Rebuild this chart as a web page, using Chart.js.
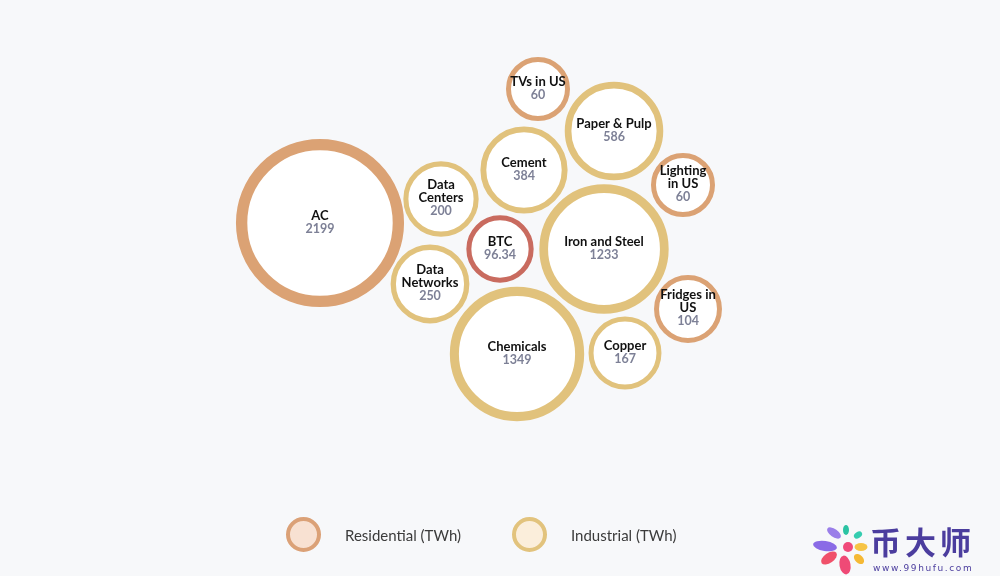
<!DOCTYPE html>
<html>
<head>
<meta charset="utf-8">
<script src="https://cdn.jsdelivr.net/npm/chart.js@4/dist/chart.umd.min.js"></script>
<style>
  html, body { margin: 0; padding: 0; background: #f7f8fa; }
  #wrap { position: relative; width: 1000px; height: 576px; overflow: hidden; }
  #chart { position: absolute; left: 0; top: 0; }
  .legend-item { position: absolute; top: 517px; height: 35px; display: flex; align-items: center;
    font-family: Lato, "Open Sans", sans-serif; font-size: 15px; color: #3b3b3b; }
  .legend-dot { width: 27px; height: 27px; border-radius: 50%; border: 4px solid; margin-right: 24px; }
  #brand { position: absolute; left: 808px; top: 520px; width: 190px; height: 56px; }
  #brand .name { position: absolute; left: 62px; top: 3px; font-family: "Noto Sans CJK SC", sans-serif;
    font-weight: 700; font-size: 31px; line-height: 36px; letter-spacing: 4px; color: #4b3d9e; }
  #brand .url { position: absolute; left: 65px; top: 43px; font-family: "DejaVu Sans", sans-serif;
    font-size: 9px; letter-spacing: 1.6px; color: #4b3d9e; }
</style>
</head>
<body>
<div id="wrap">
  <canvas id="chart" width="1000" height="576"></canvas>

  <div class="legend-item" style="left:286px;">
    <div class="legend-dot" style="background:#f8e1d2;border-color:#dba177;"></div>Residential (TWh)
  </div>
  <div class="legend-item" style="left:512px;">
    <div class="legend-dot" style="background:#fbeedb;border-color:#e2c37d;"></div>Industrial (TWh)
  </div>

  <div id="brand">
    <svg width="62" height="56" viewBox="808 520 62 56">
      <ellipse cx="825" cy="546" rx="12" ry="5" fill="#8a6be6" transform="rotate(8 825 546)"/>
      <ellipse cx="834" cy="533" rx="8" ry="4" fill="#9a7ee9" transform="rotate(35 834 533)"/>
      <ellipse cx="846" cy="530" rx="3" ry="5" fill="#2bc3a3"/>
      <ellipse cx="858" cy="535" rx="4.5" ry="3" fill="#35cdb0" transform="rotate(-35 858 535)"/>
      <ellipse cx="861" cy="547" rx="6.5" ry="4" fill="#f6c445"/>
      <ellipse cx="859" cy="559" rx="6" ry="4" fill="#f5b935" transform="rotate(45 859 559)"/>
      <ellipse cx="845" cy="565" rx="5.5" ry="9.5" fill="#ef4a76" transform="rotate(-10 845 565)"/>
      <ellipse cx="829" cy="558" rx="9" ry="5" fill="#f0516a" transform="rotate(-35 829 558)"/>
      <circle cx="848" cy="547" r="5" fill="#f04a7a"/>
    </svg>
    <div class="name">币大师</div>
    <div class="url">www.99hufu.com</div>
  </div>
</div>

<script>
// Electricity consumption, TWh per year
const residentialNames = ['AC', 'TVs in US', 'Lighting in US', 'Fridges in US'];
const residentialTWh   = [2199, 60, 60, 104];

const industrialNames  = ['Data Centers', 'Data Networks', 'Cement', 'Paper & Pulp',
                          'Iron and Steel', 'Chemicals', 'Copper'];
const industrialTWh    = [200, 250, 384, 586, 1233, 1349, 167];

const btcNames = ['BTC'];
const btcTWh   = [96.34];

// Packed bubble centres on a 1000 x 576 layout plane
const packedCentres = {
  'AC': [320, 223],
  'TVs in US': [538, 89],
  'Lighting in US': [683, 185],
  'Fridges in US': [688, 309],
  'Data Centers': [441, 199],
  'Data Networks': [430, 284],
  'Cement': [524, 170],
  'Paper & Pulp': [614, 131],
  'Iron and Steel': [604, 249],
  'Chemicals': [517, 354],
  'Copper': [625, 353],
  'BTC': [500, 249]
};

// How each name wraps inside its bubble
const labelLines = {
  'Data Centers': ['Data', 'Centers'],
  'Data Networks': ['Data', 'Networks'],
  'Lighting in US': ['Lighting', 'in US'],
  'Fridges in US': ['Fridges in', 'US']
};

// Bubble size grows with consumption (outer edge of ring, px)
function outerRadius(v) { return 28 + 4 * Math.pow(v / 60, 0.733); }
function ringWidth(v) { return Math.max(5, outerRadius(v) * 0.135); }

function points(names, values) {
  return names.map((n, i) => {
    const v = values[i];
    return { x: packedCentres[n][0], y: packedCentres[n][1],
             r: outerRadius(v) - ringWidth(v) / 2, name: n, value: v };
  });
}

function ringDataset(label, names, values, stroke) {
  return {
    label,
    data: points(names, values),
    backgroundColor: '#ffffff',
    borderColor: stroke,
    borderWidth: values.map(ringWidth),
    hoverBorderWidth: values.map(ringWidth),
    hoverRadius: 0,
    clip: false
  };
}

const bubbleLabels = {
  id: 'bubbleLabels',
  afterDatasetsDraw(chart) {
    const ctx = chart.ctx;
    ctx.save();
    ctx.textAlign = 'center';
    ctx.textBaseline = 'middle';
    const lh = 13;
    chart.data.datasets.forEach((ds, di) => {
      chart.getDatasetMeta(di).data.forEach((el, i) => {
        const p = ds.data[i];
        const lines = (labelLines[p.name] || [p.name]).concat(String(p.value));
        let y = el.y - 1 - (lines.length - 1) * lh / 2;
        lines.forEach((t, k) => {
          const isValue = k === lines.length - 1;
          ctx.font = isValue ? 'bold 12.5px Lato, sans-serif' : 'bold 13px Lato, sans-serif';
          ctx.fillStyle = isValue ? '#7d8096' : '#111111';
          ctx.fillText(t, el.x, y);
          y += lh;
        });
      });
    });
    ctx.restore();
  }
};

new Chart(document.getElementById('chart'), {
  type: 'bubble',
  data: {
    datasets: [
      ringDataset('Residential (TWh)', residentialNames, residentialTWh, '#dba274'),
      ringDataset('Industrial (TWh)', industrialNames, industrialTWh, '#e1c27c'),
      ringDataset('BTC', btcNames, btcTWh, '#c96b5f')
    ]
  },
  options: {
    responsive: false,
    animation: false,
    layout: { padding: 0, autoPadding: false },
    scales: {
      x: { type: 'linear', min: 0, max: 1000, display: false },
      y: { type: 'linear', min: 0, max: 576, reverse: true, display: false }
    },
    plugins: {
      legend: { display: false },
      tooltip: { enabled: false }
    }
  },
  plugins: [bubbleLabels]
});
</script>
</body>
</html>
